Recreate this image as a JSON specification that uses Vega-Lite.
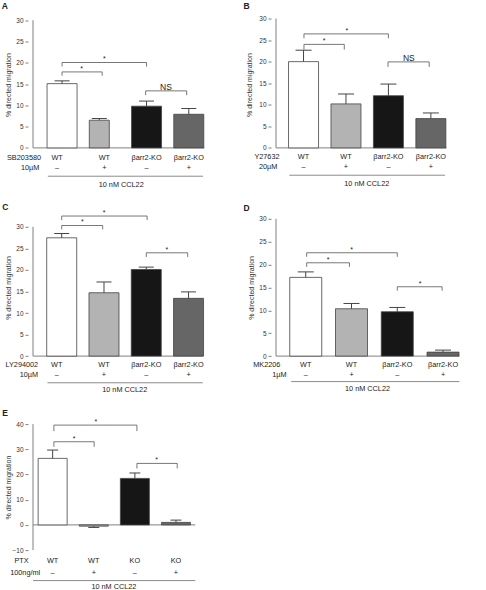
{
  "$schema": "https://vega.github.io/schema/vega-lite/v6.json",
  "background": "white",
  "padding": {"left": 1, "top": 1.5, "right": 0, "bottom": 0},
  "columns": 2,
  "bounds": "flush",
  "align": "each",
  "spacing": {"row": 67.3, "column": 43},
  "config": {
    "view": {"stroke": null},
    "font": "Liberation Sans",
    "axis": {"labelFont": "Liberation Sans", "labelFontSize": 6.5, "labelColor": "#333", "tickColor": "#808080", "tickSize": 3, "domain": false, "grid": false, "titleFont": "Liberation Sans", "titleFontSize": 7, "titleFontWeight": "normal", "titleColor": "#333", "labelPadding": 2, "labelOverlap": false, "tickCount": 7},
    "text": {"font": "Liberation Sans", "fontSize": 7.3, "color": "#222", "fill": "#222", "baseline": "middle"}
  },
  "concat": [
    {
      "width": 200, "height": 132.1,
      "data": {"values": [
        {"i": 0, "g": "WT", "s": "–", "m": 15.1, "hi": 15.75},
        {"i": 1, "g": "WT", "s": "+", "m": 6.5, "hi": 6.9},
        {"i": 2, "g": "βarr2-KO", "s": "–", "m": 9.8, "hi": 11.0},
        {"i": 3, "g": "βarr2-KO", "s": "+", "m": 7.9, "hi": 9.25}
      ]},
      "layer": [
        {"data": {"values": [{}]}, "layer": [
          {"mark": {"type": "rule", "color": "#808080", "strokeWidth": 1},
           "encoding": {
             "x": {"datum": -0.688, "type": "quantitative", "scale": {"domain": [-0.688, 3.81], "nice": false, "zero": false}, "axis": null},
             "y": {"datum": 0, "type": "quantitative", "scale": {"domain": [-0.634, 30.4], "nice": false, "zero": false}, "axis": {"values": [0, 5, 10, 15, 20, 25, 30], "title": "% directed migration", "titleX": -17}},
             "y2": {"datum": 30}}},
          {"mark": {"type": "rule", "color": "#808080", "strokeWidth": 1},
           "encoding": {"x": {"datum": -0.688, "type": "quantitative", "axis": null}, "x2": {"datum": 3.37}, "y": {"datum": 0, "type": "quantitative"}}},
          {"mark": {"type": "rule", "color": "#8c8c8c", "strokeWidth": 1},
           "encoding": {"x": {"datum": -0.337, "type": "quantitative", "axis": null}, "x2": {"datum": 3.337}, "y": {"datum": -6.65, "type": "quantitative"}}},
          {"mark": {"type": "text"}, "encoding": {"x": {"datum": 1.4, "type": "quantitative", "axis": null}, "y": {"datum": -8.64, "type": "quantitative"}, "text": {"value": "10 nM CCL22"}}},
          {"mark": {"type": "text"}, "encoding": {"x": {"datum": -0.9, "type": "quantitative", "axis": null}, "y": {"datum": -2.42, "type": "quantitative"}, "text": {"value": "SB203580"}}},
          {"mark": {"type": "text"}, "encoding": {"x": {"datum": -0.756, "type": "quantitative", "axis": null}, "y": {"datum": -4.77, "type": "quantitative"}, "text": {"value": "10µM"}}},
          {"mark": {"type": "text", "fontWeight": "bold", "fontSize": 8.5, "align": "left", "baseline": "alphabetic"}, "encoding": {"x": {"datum": -1.43, "type": "quantitative", "axis": null}, "y": {"datum": 32.58, "type": "quantitative"}, "text": {"value": "A"}}}
        ]},
        {"transform": [{"filter": "datum.i != 1"}], "layer": [
          {"mark": {"type": "bar", "width": 30, "stroke": "#444", "strokeWidth": 0.8, "opacity": 1, "orient": "vertical"},
           "encoding": {"x": {"field": "i", "type": "quantitative", "axis": null}, "y": {"field": "m", "type": "quantitative"}, "y2": {"datum": 0},
             "fill": {"field": "i", "type": "nominal", "scale": {"domain": [0, 1, 2, 3], "range": ["#ffffff", "#b3b3b3", "#161616", "#666666"]}, "legend": null}}},
          {"mark": {"type": "rule", "color": "#444", "strokeWidth": 1},
           "encoding": {"x": {"field": "i", "type": "quantitative", "axis": null}, "y": {"field": "m", "type": "quantitative"}, "y2": {"field": "hi"}}},
          {"mark": {"type": "tick", "orient": "horizontal", "thickness": 1, "color": "#444", "opacity": 1},
           "encoding": {"x": {"field": "i", "type": "quantitative", "axis": null}, "y": {"field": "hi", "type": "quantitative"}, "size": {"value": 15}}}
        ]},
        {"transform": [{"filter": "datum.i == 1"}], "layer": [
          {"mark": {"type": "bar", "width": 20, "xOffset": -5, "stroke": "#444", "strokeWidth": 0.8, "opacity": 1, "orient": "vertical"},
           "encoding": {"x": {"field": "i", "type": "quantitative", "axis": null}, "y": {"field": "m", "type": "quantitative"}, "y2": {"datum": 0},
             "fill": {"field": "i", "type": "nominal", "scale": {"domain": [0, 1, 2, 3], "range": ["#ffffff", "#b3b3b3", "#161616", "#666666"]}, "legend": null}}},
          {"mark": {"type": "rule", "color": "#444", "strokeWidth": 1, "xOffset": -5},
           "encoding": {"x": {"field": "i", "type": "quantitative", "axis": null}, "y": {"field": "m", "type": "quantitative"}, "y2": {"field": "hi"}}},
          {"mark": {"type": "tick", "orient": "horizontal", "thickness": 1, "color": "#444", "opacity": 1, "xOffset": -5},
           "encoding": {"x": {"field": "i", "type": "quantitative", "axis": null}, "y": {"field": "hi", "type": "quantitative"}, "size": {"value": 15}}}
        ]},
        {"transform": [{"filter": "datum.i > 0"}], "layer": [
          {"mark": {"type": "text"}, "encoding": {"x": {"field": "i", "type": "quantitative", "axis": null}, "y": {"datum": -2.42, "type": "quantitative"}, "text": {"field": "g"}}},
          {"mark": {"type": "text"}, "encoding": {"x": {"field": "i", "type": "quantitative", "axis": null}, "y": {"datum": -4.77, "type": "quantitative"}, "text": {"field": "s"}}}
        ]},
        {"transform": [{"filter": "datum.i == 0"}], "layer": [
          {"mark": {"type": "text", "dx": -5}, "encoding": {"x": {"field": "i", "type": "quantitative", "axis": null}, "y": {"datum": -2.42, "type": "quantitative"}, "text": {"field": "g"}}},
          {"mark": {"type": "text", "dx": -5}, "encoding": {"x": {"field": "i", "type": "quantitative", "axis": null}, "y": {"datum": -4.77, "type": "quantitative"}, "text": {"field": "s"}}}
        ]},
        {"data": {"values": [
          {"a": 0, "b": 0.95, "c": 0.46, "y": 17.85, "lo": 16.96, "t": "*"},
          {"a": 0, "b": 2, "c": 1.0, "y": 20.06, "lo": 19.12, "t": "*"},
          {"a": 1.98, "b": 2.95, "c": 2.46, "y": 13.4, "lo": 12.38, "t": "NS"}
        ]}, "layer": [
          {"mark": {"type": "rule", "color": "#555", "strokeWidth": 0.8}, "encoding": {"x": {"field": "a", "type": "quantitative", "axis": null}, "x2": {"field": "b"}, "y": {"field": "y", "type": "quantitative"}}},
          {"mark": {"type": "rule", "color": "#555", "strokeWidth": 0.8}, "encoding": {"x": {"field": "a", "type": "quantitative", "axis": null}, "y": {"field": "y", "type": "quantitative"}, "y2": {"field": "lo"}}},
          {"mark": {"type": "rule", "color": "#555", "strokeWidth": 0.8}, "encoding": {"x": {"field": "b", "type": "quantitative", "axis": null}, "y": {"field": "y", "type": "quantitative"}, "y2": {"field": "lo"}}},
          {"mark": {"type": "text", "baseline": "alphabetic", "dy": -1.2}, "encoding": {"x": {"field": "c", "type": "quantitative", "axis": null}, "y": {"field": "y", "type": "quantitative"}, "text": {"field": "t"}, "size": {"condition": {"test": "datum.t === 'NS'", "value": 8.5}, "value": 7}}}
        ]}
      ]
    },
    {
      "width": 200, "height": 132.1,
      "data": {"values": [
        {"i": 0, "g": "WT", "s": "–", "m": 20.0, "hi": 22.65},
        {"i": 1, "g": "WT", "s": "+", "m": 10.2, "hi": 12.5},
        {"i": 2, "g": "βarr2-KO", "s": "–", "m": 12.1, "hi": 14.8},
        {"i": 3, "g": "βarr2-KO", "s": "+", "m": 6.8, "hi": 8.1}
      ]},
      "layer": [
        {"data": {"values": [{}]}, "layer": [
          {"mark": {"type": "rule", "color": "#808080", "strokeWidth": 1},
           "encoding": {
             "x": {"datum": -0.649, "type": "quantitative", "scale": {"domain": [-0.649, 3.828], "nice": false, "zero": false}, "axis": null},
             "y": {"datum": 0, "type": "quantitative", "scale": {"domain": [-0.626, 30], "nice": false, "zero": false}, "axis": {"values": [0, 5, 10, 15, 20, 25, 30], "title": "% directed migration", "titleX": -18.5}},
             "y2": {"datum": 30}}},
          {"mark": {"type": "rule", "color": "#808080", "strokeWidth": 1},
           "encoding": {"x": {"datum": -0.649, "type": "quantitative", "axis": null}, "x2": {"datum": 3.37}, "y": {"datum": 0, "type": "quantitative"}}},
          {"mark": {"type": "rule", "color": "#8c8c8c", "strokeWidth": 1},
           "encoding": {"x": {"datum": -0.336, "type": "quantitative", "axis": null}, "x2": {"datum": 3.336}, "y": {"datum": -6.33, "type": "quantitative"}}},
          {"mark": {"type": "text"}, "encoding": {"x": {"datum": 1.49, "type": "quantitative", "axis": null}, "y": {"datum": -8.3, "type": "quantitative"}, "text": {"value": "10 nM CCL22"}}},
          {"mark": {"type": "text"}, "encoding": {"x": {"datum": -0.862, "type": "quantitative", "axis": null}, "y": {"datum": -2.16, "type": "quantitative"}, "text": {"value": "Y27632"}}},
          {"mark": {"type": "text"}, "encoding": {"x": {"datum": -0.833, "type": "quantitative", "axis": null}, "y": {"datum": -4.47, "type": "quantitative"}, "text": {"value": "20µM"}}},
          {"mark": {"type": "text", "fontWeight": "bold", "fontSize": 8.5, "align": "left", "baseline": "alphabetic"}, "encoding": {"x": {"datum": -1.417, "type": "quantitative", "axis": null}, "y": {"datum": 32.27, "type": "quantitative"}, "text": {"value": "B"}}}
        ]},
        {"mark": {"type": "bar", "width": 30, "stroke": "#444", "strokeWidth": 0.8, "opacity": 1, "orient": "vertical"},
         "encoding": {"x": {"field": "i", "type": "quantitative", "axis": null}, "y": {"field": "m", "type": "quantitative"}, "y2": {"datum": 0},
           "fill": {"field": "i", "type": "nominal", "scale": {"domain": [0, 1, 2, 3], "range": ["#ffffff", "#b3b3b3", "#161616", "#666666"]}, "legend": null}}},
        {"mark": {"type": "rule", "color": "#444", "strokeWidth": 1},
         "encoding": {"x": {"field": "i", "type": "quantitative", "axis": null}, "y": {"field": "m", "type": "quantitative"}, "y2": {"field": "hi"}}},
        {"mark": {"type": "tick", "orient": "horizontal", "thickness": 1, "color": "#444", "opacity": 1},
         "encoding": {"x": {"field": "i", "type": "quantitative", "axis": null}, "y": {"field": "hi", "type": "quantitative"}, "size": {"value": 16}}},
        {"mark": {"type": "text"}, "encoding": {"x": {"field": "i", "type": "quantitative", "axis": null}, "y": {"datum": -2.16, "type": "quantitative"}, "text": {"field": "g"}}},
        {"mark": {"type": "text"}, "encoding": {"x": {"field": "i", "type": "quantitative", "axis": null}, "y": {"datum": -4.47, "type": "quantitative"}, "text": {"field": "s"}}},
        {"data": {"values": [
          {"a": 0.01, "b": 0.96, "c": 0.485, "y": 24.0, "lo": 22.8, "t": "*"},
          {"a": 0.01, "b": 2.0, "c": 1.02, "y": 26.43, "lo": 25.4, "t": "*"},
          {"a": 1.99, "b": 2.96, "c": 2.48, "y": 19.94, "lo": 18.78, "t": "NS"}
        ]}, "layer": [
          {"mark": {"type": "rule", "color": "#555", "strokeWidth": 0.8}, "encoding": {"x": {"field": "a", "type": "quantitative", "axis": null}, "x2": {"field": "b"}, "y": {"field": "y", "type": "quantitative"}}},
          {"mark": {"type": "rule", "color": "#555", "strokeWidth": 0.8}, "encoding": {"x": {"field": "a", "type": "quantitative", "axis": null}, "y": {"field": "y", "type": "quantitative"}, "y2": {"field": "lo"}}},
          {"mark": {"type": "rule", "color": "#555", "strokeWidth": 0.8}, "encoding": {"x": {"field": "b", "type": "quantitative", "axis": null}, "y": {"field": "y", "type": "quantitative"}, "y2": {"field": "lo"}}},
          {"mark": {"type": "text", "baseline": "alphabetic", "dy": -1.2}, "encoding": {"x": {"field": "c", "type": "quantitative", "axis": null}, "y": {"field": "y", "type": "quantitative"}, "text": {"field": "t"}, "size": {"condition": {"test": "datum.t === 'NS'", "value": 8.5}, "value": 7}}}
        ]}
      ]
    },
    {
      "width": 200, "height": 137.3,
      "data": {"values": [
        {"i": 0, "g": "WT", "s": "–", "m": 27.45, "hi": 28.45},
        {"i": 1, "g": "WT", "s": "+", "m": 14.7, "hi": 17.2},
        {"i": 2, "g": "βarr2-KO", "s": "–", "m": 20.1, "hi": 20.65},
        {"i": 3, "g": "βarr2-KO", "s": "+", "m": 13.4, "hi": 14.9}
      ]},
      "layer": [
        {"data": {"values": [{}]}, "layer": [
          {"mark": {"type": "rule", "color": "#808080", "strokeWidth": 1},
           "encoding": {
             "x": {"datum": -0.679, "type": "quantitative", "scale": {"domain": [-0.679, 3.815], "nice": false, "zero": false}, "axis": null},
             "y": {"datum": 0, "type": "quantitative", "scale": {"domain": [0, 31.86], "nice": false, "zero": false}, "axis": {"values": [0, 5, 10, 15, 20, 25, 30], "title": "% directed migration", "titleX": -17}},
             "y2": {"datum": 30}}},
          {"mark": {"type": "rule", "color": "#808080", "strokeWidth": 1},
           "encoding": {"x": {"datum": -0.679, "type": "quantitative", "axis": null}, "x2": {"datum": 3.35}, "y": {"datum": 0, "type": "quantitative"}}},
          {"mark": {"type": "rule", "color": "#8c8c8c", "strokeWidth": 1},
           "encoding": {"x": {"datum": -0.337, "type": "quantitative", "axis": null}, "x2": {"datum": 3.337}, "y": {"datum": -6.19, "type": "quantitative"}}},
          {"mark": {"type": "text"}, "encoding": {"x": {"datum": 1.49, "type": "quantitative", "axis": null}, "y": {"datum": -7.89, "type": "quantitative"}, "text": {"value": "10 nM CCL22"}}},
          {"mark": {"type": "text"}, "encoding": {"x": {"datum": -0.944, "type": "quantitative", "axis": null}, "y": {"datum": -2.16, "type": "quantitative"}, "text": {"value": "LY294002"}}},
          {"mark": {"type": "text"}, "encoding": {"x": {"datum": -0.775, "type": "quantitative", "axis": null}, "y": {"datum": -4.41, "type": "quantitative"}, "text": {"value": "10µM"}}},
          {"mark": {"type": "text", "fontWeight": "bold", "fontSize": 8.5, "align": "left", "baseline": "alphabetic"}, "encoding": {"x": {"datum": -1.404, "type": "quantitative", "axis": null}, "y": {"datum": 33.87, "type": "quantitative"}, "text": {"value": "C"}}}
        ]},
        {"mark": {"type": "bar", "width": 30, "stroke": "#444", "strokeWidth": 0.8, "opacity": 1, "orient": "vertical"},
         "encoding": {"x": {"field": "i", "type": "quantitative", "axis": null}, "y": {"field": "m", "type": "quantitative"}, "y2": {"datum": 0},
           "fill": {"field": "i", "type": "nominal", "scale": {"domain": [0, 1, 2, 3], "range": ["#ffffff", "#b3b3b3", "#161616", "#666666"]}, "legend": null}}},
        {"mark": {"type": "rule", "color": "#444", "strokeWidth": 1},
         "encoding": {"x": {"field": "i", "type": "quantitative", "axis": null}, "y": {"field": "m", "type": "quantitative"}, "y2": {"field": "hi"}}},
        {"mark": {"type": "tick", "orient": "horizontal", "thickness": 1, "color": "#444", "opacity": 1},
         "encoding": {"x": {"field": "i", "type": "quantitative", "axis": null}, "y": {"field": "hi", "type": "quantitative"}, "size": {"value": 15}}},
        {"transform": [{"filter": "datum.i > 0"}], "layer": [
          {"mark": {"type": "text"}, "encoding": {"x": {"field": "i", "type": "quantitative", "axis": null}, "y": {"datum": -2.16, "type": "quantitative"}, "text": {"field": "g"}}},
          {"mark": {"type": "text"}, "encoding": {"x": {"field": "i", "type": "quantitative", "axis": null}, "y": {"datum": -4.41, "type": "quantitative"}, "text": {"field": "s"}}}
        ]},
        {"transform": [{"filter": "datum.i == 0"}], "layer": [
          {"mark": {"type": "text", "dx": -5}, "encoding": {"x": {"field": "i", "type": "quantitative", "axis": null}, "y": {"datum": -2.16, "type": "quantitative"}, "text": {"field": "g"}}},
          {"mark": {"type": "text", "dx": -5}, "encoding": {"x": {"field": "i", "type": "quantitative", "axis": null}, "y": {"datum": -4.41, "type": "quantitative"}, "text": {"field": "s"}}}
        ]},
        {"data": {"values": [
          {"a": 0, "b": 0.97, "c": 0.49, "y": 30.3, "lo": 29.4, "t": "*"},
          {"a": 0, "b": 2.02, "c": 1.0, "y": 32.5, "lo": 31.55, "t": "*"},
          {"a": 2.0, "b": 2.98, "c": 2.49, "y": 23.97, "lo": 23.0, "t": "*"}
        ]}, "layer": [
          {"mark": {"type": "rule", "color": "#555", "strokeWidth": 0.8}, "encoding": {"x": {"field": "a", "type": "quantitative", "axis": null}, "x2": {"field": "b"}, "y": {"field": "y", "type": "quantitative"}}},
          {"mark": {"type": "rule", "color": "#555", "strokeWidth": 0.8}, "encoding": {"x": {"field": "a", "type": "quantitative", "axis": null}, "y": {"field": "y", "type": "quantitative"}, "y2": {"field": "lo"}}},
          {"mark": {"type": "rule", "color": "#555", "strokeWidth": 0.8}, "encoding": {"x": {"field": "b", "type": "quantitative", "axis": null}, "y": {"field": "y", "type": "quantitative"}, "y2": {"field": "lo"}}},
          {"mark": {"type": "text", "baseline": "alphabetic", "dy": -1.2}, "encoding": {"x": {"field": "c", "type": "quantitative", "axis": null}, "y": {"field": "y", "type": "quantitative"}, "text": {"field": "t"}, "size": {"value": 7}}}
        ]}
      ]
    },
    {
      "width": 200, "height": 137.3,
      "data": {"values": [
        {"i": 0, "g": "WT", "s": "–", "m": 17.2, "hi": 18.4},
        {"i": 1, "g": "WT", "s": "+", "m": 10.34, "hi": 11.5},
        {"i": 2, "g": "βarr2-KO", "s": "–", "m": 9.69, "hi": 10.63},
        {"i": 3, "g": "βarr2-KO", "s": "+", "m": 0.87, "hi": 1.31}
      ]},
      "layer": [
        {"data": {"values": [{}]}, "layer": [
          {"mark": {"type": "rule", "color": "#808080", "strokeWidth": 1},
           "encoding": {
             "x": {"datum": -0.65, "type": "quantitative", "scale": {"domain": [-0.65, 3.502], "nice": false, "zero": false}, "axis": null},
             "y": {"datum": 0, "type": "quantitative", "scale": {"domain": [0, 30], "nice": false, "zero": false}, "axis": {"values": [0, 5, 10, 15, 20, 25, 30], "title": "% directed migration", "titleX": -17}},
             "y2": {"datum": 30}}},
          {"mark": {"type": "rule", "color": "#808080", "strokeWidth": 1},
           "encoding": {"x": {"datum": -0.65, "type": "quantitative", "axis": null}, "x2": {"datum": 3.357}, "y": {"datum": 0, "type": "quantitative"}}},
          {"mark": {"type": "rule", "color": "#8c8c8c", "strokeWidth": 1},
           "encoding": {"x": {"datum": -0.32, "type": "quantitative", "axis": null}, "x2": {"datum": 3.357}, "y": {"datum": -5.57, "type": "quantitative"}}},
          {"mark": {"type": "text"}, "encoding": {"x": {"datum": 1.35, "type": "quantitative", "axis": null}, "y": {"datum": -7.1, "type": "quantitative"}, "text": {"value": "10 nM CCL22"}}},
          {"mark": {"type": "text"}, "encoding": {"x": {"datum": -0.85, "type": "quantitative", "axis": null}, "y": {"datum": -2.03, "type": "quantitative"}, "text": {"value": "MK2206"}}},
          {"mark": {"type": "text"}, "encoding": {"x": {"datum": -0.577, "type": "quantitative", "axis": null}, "y": {"datum": -4.15, "type": "quantitative"}, "text": {"value": "1µM"}}},
          {"mark": {"type": "text", "fontWeight": "bold", "fontSize": 8.5, "align": "left", "baseline": "alphabetic"}, "encoding": {"x": {"datum": -1.362, "type": "quantitative", "axis": null}, "y": {"datum": 31.68, "type": "quantitative"}, "text": {"value": "D"}}}
        ]},
        {"mark": {"type": "bar", "width": 32, "stroke": "#444", "strokeWidth": 0.8, "opacity": 1, "orient": "vertical"},
         "encoding": {"x": {"field": "i", "type": "quantitative", "axis": null}, "y": {"field": "m", "type": "quantitative"}, "y2": {"datum": 0},
           "fill": {"field": "i", "type": "nominal", "scale": {"domain": [0, 1, 2, 3], "range": ["#ffffff", "#b3b3b3", "#161616", "#666666"]}, "legend": null}}},
        {"mark": {"type": "rule", "color": "#444", "strokeWidth": 1},
         "encoding": {"x": {"field": "i", "type": "quantitative", "axis": null}, "y": {"field": "m", "type": "quantitative"}, "y2": {"field": "hi"}}},
        {"mark": {"type": "tick", "orient": "horizontal", "thickness": 1, "color": "#444", "opacity": 1},
         "encoding": {"x": {"field": "i", "type": "quantitative", "axis": null}, "y": {"field": "hi", "type": "quantitative"}, "size": {"value": 16}}},
        {"mark": {"type": "text"}, "encoding": {"x": {"field": "i", "type": "quantitative", "axis": null}, "y": {"datum": -2.03, "type": "quantitative"}, "text": {"field": "g"}}},
        {"mark": {"type": "text"}, "encoding": {"x": {"field": "i", "type": "quantitative", "axis": null}, "y": {"datum": -4.15, "type": "quantitative"}, "text": {"field": "s"}}},
        {"data": {"values": [
          {"a": 0.02, "b": 0.955, "c": 0.486, "y": 20.39, "lo": 19.5, "t": "*"},
          {"a": 0.02, "b": 2.0, "c": 1.0, "y": 22.58, "lo": 21.7, "t": "*"},
          {"a": 2.0, "b": 2.98, "c": 2.5, "y": 15.15, "lo": 14.28, "t": "*"}
        ]}, "layer": [
          {"mark": {"type": "rule", "color": "#555", "strokeWidth": 0.8}, "encoding": {"x": {"field": "a", "type": "quantitative", "axis": null}, "x2": {"field": "b"}, "y": {"field": "y", "type": "quantitative"}}},
          {"mark": {"type": "rule", "color": "#555", "strokeWidth": 0.8}, "encoding": {"x": {"field": "a", "type": "quantitative", "axis": null}, "y": {"field": "y", "type": "quantitative"}, "y2": {"field": "lo"}}},
          {"mark": {"type": "rule", "color": "#555", "strokeWidth": 0.8}, "encoding": {"x": {"field": "b", "type": "quantitative", "axis": null}, "y": {"field": "y", "type": "quantitative"}, "y2": {"field": "lo"}}},
          {"mark": {"type": "text", "baseline": "alphabetic", "dy": -1.2}, "encoding": {"x": {"field": "c", "type": "quantitative", "axis": null}, "y": {"field": "y", "type": "quantitative"}, "text": {"field": "t"}, "size": {"value": 7}}}
        ]}
      ]
    },
    {
      "width": 200, "height": 126,
      "data": {"values": [
        {"i": 0, "g": "WT", "s": "–", "m": 26.4, "hi": 29.7},
        {"i": 1, "g": "WT", "s": "+", "m": -0.5, "hi": -1.0},
        {"i": 2, "g": "KO", "s": "–", "m": 18.45, "hi": 20.6},
        {"i": 3, "g": "KO", "s": "+", "m": 1.0, "hi": 1.9}
      ]},
      "layer": [
        {"data": {"values": [{}]}, "layer": [
          {"mark": {"type": "rule", "color": "#808080", "strokeWidth": 1},
           "encoding": {
             "x": {"datum": -0.478, "type": "quantitative", "scale": {"domain": [-0.478, 4.144], "nice": false, "zero": false}, "axis": null},
             "y": {"datum": -10, "type": "quantitative", "scale": {"domain": [-10, 40], "nice": false, "zero": false}, "axis": {"values": [-10, 0, 10, 20, 30, 40], "title": "% directed migration", "titleX": -17}},
             "y2": {"datum": 40}}},
          {"mark": {"type": "rule", "color": "#808080", "strokeWidth": 1},
           "encoding": {"x": {"datum": -0.478, "type": "quantitative", "axis": null}, "x2": {"datum": 3.47}, "y": {"datum": 0, "type": "quantitative"}}},
          {"mark": {"type": "rule", "color": "#8c8c8c", "strokeWidth": 1},
           "encoding": {"x": {"datum": -0.478, "type": "quantitative", "axis": null}, "x2": {"datum": 3.47}, "y": {"datum": -22.1, "type": "quantitative"}}},
          {"mark": {"type": "text"}, "encoding": {"x": {"datum": 1.49, "type": "quantitative", "axis": null}, "y": {"datum": -24.68, "type": "quantitative"}, "text": {"value": "10 nM CCL22"}}},
          {"mark": {"type": "text"}, "encoding": {"x": {"datum": -0.756, "type": "quantitative", "axis": null}, "y": {"datum": -14.37, "type": "quantitative"}, "text": {"value": "PTX"}}},
          {"mark": {"type": "text"}, "encoding": {"x": {"datum": -0.668, "type": "quantitative", "axis": null}, "y": {"datum": -19.05, "type": "quantitative"}, "text": {"value": "100ng/ml"}}},
          {"mark": {"type": "text", "fontWeight": "bold", "fontSize": 8.5, "align": "left", "baseline": "alphabetic"}, "encoding": {"x": {"datum": -1.225, "type": "quantitative", "axis": null}, "y": {"datum": 43.37, "type": "quantitative"}, "text": {"value": "E"}}}
        ]},
        {"mark": {"type": "bar", "width": 29, "stroke": "#444", "strokeWidth": 0.8, "opacity": 1, "orient": "vertical"},
         "encoding": {"x": {"field": "i", "type": "quantitative", "axis": null}, "y": {"field": "m", "type": "quantitative"}, "y2": {"datum": 0},
           "fill": {"field": "i", "type": "nominal", "scale": {"domain": [0, 1, 2, 3], "range": ["#ffffff", "#b3b3b3", "#161616", "#666666"]}, "legend": null}}},
        {"mark": {"type": "rule", "color": "#444", "strokeWidth": 1},
         "encoding": {"x": {"field": "i", "type": "quantitative", "axis": null}, "y": {"field": "m", "type": "quantitative"}, "y2": {"field": "hi"}}},
        {"mark": {"type": "tick", "orient": "horizontal", "thickness": 1, "color": "#444", "opacity": 1},
         "encoding": {"x": {"field": "i", "type": "quantitative", "axis": null}, "y": {"field": "hi", "type": "quantitative"}, "size": {"value": 11}}},
        {"mark": {"type": "text"}, "encoding": {"x": {"field": "i", "type": "quantitative", "axis": null}, "y": {"datum": -14.37, "type": "quantitative"}, "text": {"field": "g"}}},
        {"mark": {"type": "text"}, "encoding": {"x": {"field": "i", "type": "quantitative", "axis": null}, "y": {"datum": -19.05, "type": "quantitative"}, "text": {"field": "s"}}},
        {"data": {"values": [
          {"a": 0.03, "b": 1.01, "c": 0.52, "y": 33.0, "lo": 31.0, "t": "*"},
          {"a": 0.03, "b": 2.05, "c": 1.05, "y": 39.6, "lo": 37.2, "t": "*"},
          {"a": 2.05, "b": 3.03, "c": 2.53, "y": 24.4, "lo": 22.4, "t": "*"}
        ]}, "layer": [
          {"mark": {"type": "rule", "color": "#555", "strokeWidth": 0.8}, "encoding": {"x": {"field": "a", "type": "quantitative", "axis": null}, "x2": {"field": "b"}, "y": {"field": "y", "type": "quantitative"}}},
          {"mark": {"type": "rule", "color": "#555", "strokeWidth": 0.8}, "encoding": {"x": {"field": "a", "type": "quantitative", "axis": null}, "y": {"field": "y", "type": "quantitative"}, "y2": {"field": "lo"}}},
          {"mark": {"type": "rule", "color": "#555", "strokeWidth": 0.8}, "encoding": {"x": {"field": "b", "type": "quantitative", "axis": null}, "y": {"field": "y", "type": "quantitative"}, "y2": {"field": "lo"}}},
          {"mark": {"type": "text", "baseline": "alphabetic", "dy": -1.2}, "encoding": {"x": {"field": "c", "type": "quantitative", "axis": null}, "y": {"field": "y", "type": "quantitative"}, "text": {"field": "t"}, "size": {"value": 7}}}
        ]}
      ]
    }
  ]
}
